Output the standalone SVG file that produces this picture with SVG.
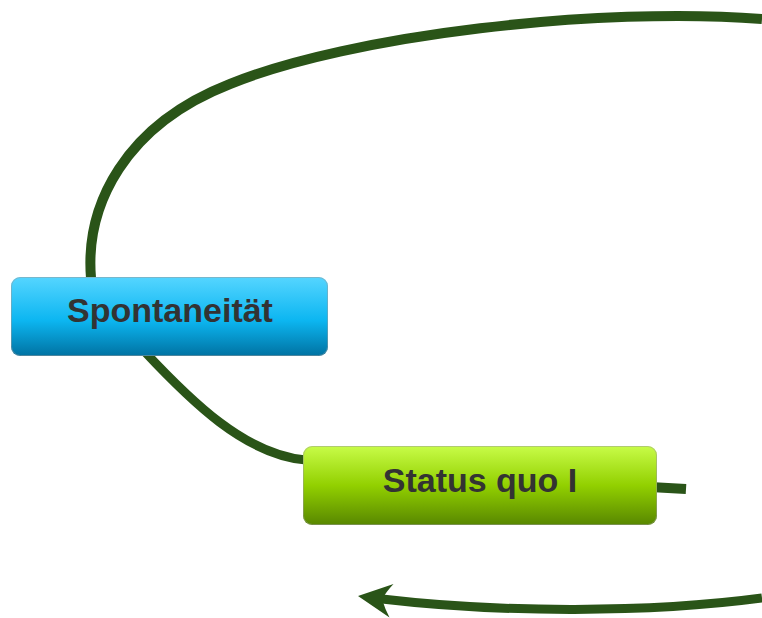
<svg xmlns="http://www.w3.org/2000/svg" width="762" height="618" viewBox="0 0 762 618">
  <style>
    .link { fill: none; stroke: #2a5418; stroke-linecap: butt; }
    .head { fill: #2a5418; }
    .box-edge { fill: none; stroke: #9a9a9a; stroke-opacity: 0.5; stroke-width: 1; }
    .label { font-family: "Liberation Sans", Arial, sans-serif; font-weight: bold; font-size: 34px; fill: #333333; text-anchor: middle; }
  </style>
  <defs>
    <linearGradient id="blueFill" x1="0" y1="0" x2="0" y2="1">
      <stop offset="0" stop-color="#55d5ff"/>
      <stop offset="0.55" stop-color="#0cb6f1"/>
      <stop offset="1" stop-color="#0072a2"/>
    </linearGradient>
    <linearGradient id="greenFill" x1="0" y1="0" x2="0" y2="1">
      <stop offset="0" stop-color="#c8fc48"/>
      <stop offset="0.5" stop-color="#92d000"/>
      <stop offset="1" stop-color="#588700"/>
    </linearGradient>
  </defs>

  <g id="connectors">
    <!-- large loop leaving the top of Spontaneität -->
    <path class="link" stroke-width="10" d="M 91 278 C 85 205, 125 125, 230 84 C 350 35, 600 6, 762 19"/>
    <!-- Spontaneität to Status quo I -->
    <path class="link" stroke-width="9" d="M 145 352 C 190 400, 245 455, 306 460"/>
    <!-- short stub to the right of Status quo I -->
    <path class="link" stroke-width="10" d="M 650 487 L 686 489"/>
    <!-- returning arrow along the bottom -->
    <path class="link" stroke-width="9" d="M 762 598 C 650 613, 500 613, 382 599"/>
    <path class="head" d="M 358 596 L 393.5 584 Q 386 592 383 598 L 383 602 Q 385 609 389.5 617.5 Z"/>
  </g>

  <g id="node-spontaneitaet">
    <rect x="11" y="277" width="317" height="79" rx="9" fill="url(#blueFill)"/>
    <rect class="box-edge" x="11.5" y="277.5" width="316" height="78" rx="9"/>
    <text class="label" x="170" y="322">Spontaneität</text>
  </g>

  <g id="node-status-quo">
    <rect x="303" y="446" width="354" height="79" rx="9" fill="url(#greenFill)"/>
    <rect class="box-edge" x="303.5" y="446.5" width="353" height="78" rx="9"/>
    <text class="label" x="480" y="492">Status quo I</text>
  </g>
</svg>
